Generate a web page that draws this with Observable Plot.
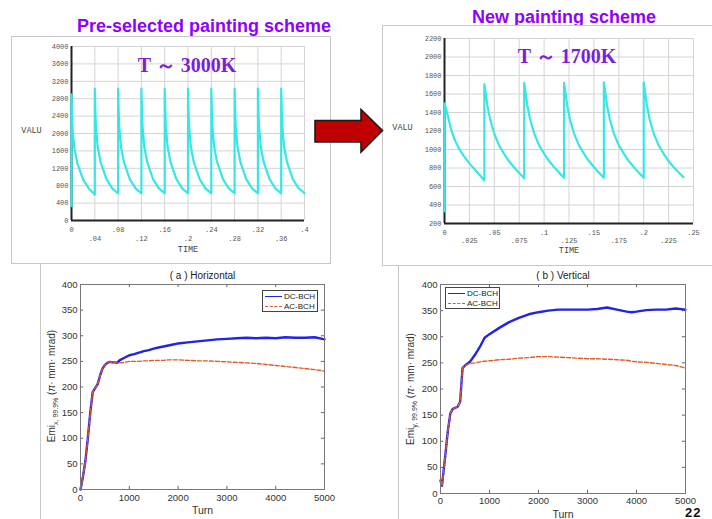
<!DOCTYPE html>
<html>
<head>
<meta charset="utf-8">
<script src="https://cdn.jsdelivr.net/npm/d3@7"></script>
<script src="https://cdn.jsdelivr.net/npm/@observablehq/plot@0.6"></script>
<style>
  html, body { margin: 0; padding: 0; background: #fff; }
  #page { position: relative; width: 712px; height: 519px; overflow: hidden; background: #fff; }
  .frame { position: absolute; border: 1px solid #c8c8c8; box-sizing: border-box; }
  .title { position: absolute; font-family: "Liberation Sans", Arial, sans-serif; font-weight: bold; font-size: 18px; line-height: 18px; color: #9000ff; white-space: nowrap; transform: translateX(-50%); }
  .temp { position: absolute; font-family: "Liberation Serif", "Times New Roman", serif; font-weight: bold; font-size: 20px; line-height: 20px; color: #7b1fd8; white-space: nowrap; transform: translateX(-50%); }
  .ylab { position: absolute; font-family: "Liberation Sans", Arial, sans-serif; font-size: 10px; color: #333; white-space: nowrap; transform: translate(-50%, -50%) rotate(-90deg); }
  .ylab sub { font-size: 7px; }
  .legend { position: absolute; background: #fff; border: 1px solid #444; box-sizing: border-box; font-family: "Liberation Sans", Arial, sans-serif; font-size: 8px; color: #222; padding: 1px 2px; white-space: nowrap; }
  .legend .row { display: flex; align-items: center; height: 9.5px; white-space: nowrap; }
  .legend .sw { width: 17px; flex: none; margin-right: 2px; height: 0; }
</style>
</head>
<body>
<div id="page"></div>
<script>
// ---------------- data ----------------
// Top-left (pre-selected scheme) temperature trace
const tlTime = [
  0, 0, .002, .005, .01, .02, .03, .04,
  .04, .041, .042, .045, .05, .06, .07, .08,
  .08, .081, .082, .085, .09, .10, .11, .12,
  .12, .121, .122, .125, .13, .14, .15, .16,
  .16, .161, .162, .165, .17, .18, .19, .20,
  .20, .201, .202, .205, .21, .22, .23, .24,
  .24, .241, .242, .245, .25, .26, .27, .28,
  .28, .281, .282, .285, .29, .30, .31, .32,
  .32, .321, .322, .325, .33, .34, .35, .36,
  .36, .361, .362, .365, .37, .38, .39, .40
];
const tlValue = [
  330, 2900, 2050, 1650, 1320, 940, 730, 595,
  3030, 2500, 2150, 1690, 1340, 950, 740, 620,
  3030, 2500, 2150, 1690, 1340, 950, 740, 625,
  3030, 2500, 2150, 1690, 1340, 950, 740, 625,
  3030, 2500, 2150, 1690, 1340, 950, 740, 625,
  3030, 2500, 2150, 1690, 1340, 950, 740, 625,
  3030, 2500, 2150, 1690, 1340, 950, 740, 625,
  3035, 2500, 2150, 1690, 1340, 950, 740, 625,
  3035, 2500, 2150, 1690, 1340, 950, 740, 625,
  3035, 2500, 2150, 1690, 1340, 950, 740, 630
];
const tlYTicks = [0, 400, 800, 1200, 1600, 2000, 2400, 2800, 3200, 3600, 4000];
const tlXTicks = [0, .04, .08, .12, .16, .2, .24, .28, .32, .36, .4];
const tlXRow1 = [0, .08, .16, .24, .32, .4];
const tlXRow2 = [.04, .12, .2, .28, .36];

// Top-right (new scheme) temperature trace
const trTime = [
  0, 0, .003, .006, .01, .015, .02, .025, .03, .035, .04,
  .04, .041, .043, .046, .05, .055, .06, .065, .07, .075, .08,
  .08, .081, .083, .086, .09, .095, .10, .105, .11, .115, .12,
  .12, .121, .123, .126, .13, .135, .14, .145, .15, .155, .16,
  .16, .161, .163, .166, .17, .175, .18, .185, .19, .195, .20,
  .20, .201, .203, .206, .21, .215, .22, .225, .23, .235, .24
];
const trValue = [
  330, 1500, 1380, 1240, 1110, 1000, 920, 850, 790, 730, 665,
  1705, 1640, 1480, 1320, 1170, 1040, 950, 870, 805, 745, 690,
  1720, 1650, 1490, 1325, 1175, 1045, 955, 875, 810, 750, 695,
  1720, 1650, 1490, 1325, 1175, 1045, 955, 875, 810, 750, 695,
  1725, 1655, 1490, 1325, 1175, 1045, 955, 875, 810, 750, 695,
  1725, 1655, 1490, 1325, 1175, 1045, 955, 875, 810, 755, 700
];
const trYTicks = [200, 400, 600, 800, 1000, 1200, 1400, 1600, 1800, 2000, 2200];
const trXTicks = [0, .025, .05, .075, .1, .125, .15, .175, .2, .225, .25];
const trXRow1 = [0, .05, .1, .15, .2, .25];
const trXRow2 = [.025, .075, .125, .175, .225];

// Bottom-left (a) Horizontal emittance
const blTurn = [0,50,100,150,200,250,300,350,400,450,500,550,600,650,700,750,800,900,1000,1100,1200,1300,1400,1500,1600,1700,1800,1900,2000,2200,2400,2600,2800,3000,3200,3400,3600,3800,4000,4200,4400,4600,4800,5000];
const blDC = [0,25,55,100,150,190,198,205,222,236,243,247,249,248,248,247,252,257,262,264,267,270,272,275,277,279,281,283,285,287,289,291,293,294,295,296,295,296,295,297,296,296,297,293];
const blAC = [0,25,55,100,150,190,198,205,222,236,243,247,249,248,248,247,247,248,250,250,250,251,251,252,252,252,253,253,253,252,251,251,250,249,248,247,246,244,242,240,238,236,234,231];

// Bottom-right (b) Vertical emittance
const brTurn = [0,30,100,150,200,250,300,350,400,450,500,600,700,800,900,1000,1200,1400,1600,1800,2000,2200,2400,2600,2800,3000,3200,3400,3600,3800,3900,4000,4200,4400,4600,4800,5000];
const brDC = [25,15,75,120,153,162,164,166,175,240,245,252,265,280,298,305,317,328,336,343,347,350,352,352,352,352,353,356,352,348,347,348,351,352,352,354,352];
const brAC = [25,15,75,120,153,162,164,166,175,240,245,249,250,252,253,254,256,257,259,260,262,262,261,260,259,258,258,257,256,255,253,252,251,249,247,245,240];

const emYTicks = [0, 50, 100, 150, 200, 250, 300, 350, 400];
const emXTicks = [0, 1000, 2000, 3000, 4000, 5000];
const seriesNames = ["DC-BCH", "AC-BCH"];

// ---------------- helpers ----------------
const page = document.getElementById("page");
function put(el, left, top) {
  el.style.position = "absolute";
  el.style.left = left + "px";
  el.style.top = top + "px";
  page.appendChild(el);
  return el;
}
function html(tag, cls, inner, css) {
  const el = document.createElement(tag);
  if (cls) el.className = cls;
  el.innerHTML = inner;
  Object.assign(el.style, css || {});
  page.appendChild(el);
  return el;
}
const fmtDot = d => d === 0 ? "0" : String(+d.toFixed(3)).replace(/^0\./, ".");
const ansysFont = "'Liberation Mono', 'DejaVu Sans Mono', monospace";
const cyan = "#38e6e6";

function ansysPlot(o) {
  return Plot.plot({
    width: o.width, height: o.height,
    marginLeft: o.ml, marginRight: o.mr, marginTop: o.mt, marginBottom: o.mb,
    style: {background: "transparent", overflow: "visible", fontFamily: ansysFont, fontSize: "7px", color: "#555"},
    x: {domain: o.xDomain},
    y: {domain: o.yDomain},
    marks: [
      Plot.gridX(o.xTicks, {stroke: "#d4d4d4", strokeOpacity: 1}),
      Plot.gridY(o.yTicks, {stroke: "#d4d4d4", strokeOpacity: 1}),
      Plot.axisY(o.yTicks, {tickSize: 0, tickPadding: 3, label: null, tickFormat: d => String(d)}),
      Plot.axisX(o.row1, {tickSize: 0, tickPadding: o.pad1, label: null, tickFormat: fmtDot}),
      Plot.axisX(o.row2, {tickSize: 0, tickPadding: o.pad2, label: null, tickFormat: fmtDot}),
      Plot.ruleX([o.xDomain[0]], {stroke: "#222", strokeWidth: 2}),
      Plot.ruleY([o.yDomain[0]], {stroke: "#222", strokeWidth: 2}),
      Plot.text(["TIME"], {frameAnchor: "bottom", dy: o.timeDy, lineAnchor: "middle", fontSize: 8.5, fill: "#444", fontFamily: ansysFont}),
      Plot.text(["VALU"], {frameAnchor: "left", dx: o.valuDx, dy: o.valuDy, lineAnchor: "middle", textAnchor: "middle", fontSize: 8.5, fill: "#444", fontFamily: ansysFont}),
      Plot.line(o.data, {x: "t", y: "v", stroke: cyan, strokeWidth: 2.2, curve: "linear"})
    ]
  });
}

function emitPlot(o) {
  const dc = o.turn.map((t, i) => ({t, v: o.dc[i]}));
  const ac = o.turn.map((t, i) => ({t, v: o.ac[i]}));
  return Plot.plot({
    width: o.width, height: o.height,
    marginLeft: o.ml, marginRight: o.mr, marginTop: o.mt, marginBottom: o.mb,
    style: {background: "transparent", overflow: "visible", fontFamily: "'Liberation Sans', Arial, sans-serif", fontSize: "9.5px", color: "#333"},
    x: {domain: [0, 5000]},
    y: {domain: [0, 400]},
    marks: [
      Plot.axisX(emXTicks, {tickSize: 0, tickPadding: o.xPad, label: null, tickFormat: d => String(d)}),
      Plot.axisY(emYTicks, {tickSize: 0, tickPadding: 3, label: null, tickFormat: d => String(d)}),
      Plot.ruleX(emXTicks, {y1: 0, y2: 6, stroke: "#666"}),
      Plot.ruleX(emXTicks, {y1: 394, y2: 400, stroke: "#666"}),
      Plot.ruleY(emYTicks, {x1: 0, x2: 65, stroke: "#666"}),
      Plot.ruleY(emYTicks, {x1: 4935, x2: 5000, stroke: "#666"}),
      Plot.line(dc, {x: "t", y: "v", stroke: "#2222e8", strokeWidth: 2.4}),
      Plot.line(ac, {x: "t", y: "v", stroke: "#dd5a22", strokeWidth: 1.4, strokeDasharray: "4,2"}),
      Plot.frame({stroke: "#777", strokeWidth: 1}),
      Plot.text([o.title], {frameAnchor: "top", dy: -8.5, lineAnchor: "middle", fontSize: 10, fill: "#222"}),
      Plot.text(["Turn"], {frameAnchor: "bottom", dy: o.turnDy, lineAnchor: "middle", fontSize: 10.5, fill: "#333"})
    ]
  });
}

// ---------------- top titles & frames ----------------
html("div", "title", "Pre-selected painting scheme", {left: "204px", top: "17px"});
html("div", "title", "New painting scheme", {left: "564px", top: "8px"});

html("div", "frame", "", {left: "11px", top: "36px", width: "320px", height: "228px"});
html("div", "frame", "", {left: "382px", top: "25px", width: "340px", height: "241px", background: "#fff"});
html("div", "frame", "", {left: "40px", top: "263px", width: "700px", height: "300px", borderTop: "none", borderRight: "none", borderBottom: "none"});
html("div", "frame", "", {left: "398px", top: "265px", width: "400px", height: "300px", borderTop: "none", borderRight: "none", borderBottom: "none"});

// ---------------- top-left ANSYS plot ----------------
const tlData = tlTime.map((t, i) => ({t, v: tlValue[i]}));
put(ansysPlot({
  width: 319, height: 227, ml: 60, mr: 26, mt: 10, mb: 43,
  xDomain: [0, 0.4], yDomain: [0, 4000],
  xTicks: tlXTicks, yTicks: tlYTicks, row1: tlXRow1, row2: tlXRow2,
  pad1: 7, pad2: 16, timeDy: 28.5, valuDx: -40, valuDy: -3,
  data: tlData
}), 11, 36);

// ---------------- top-right ANSYS plot ----------------
const trData = trTime.map((t, i) => ({t, v: trValue[i]}));
put(ansysPlot({
  width: 330, height: 240, ml: 62, mr: 19, mt: 13, mb: 42,
  xDomain: [0, 0.25], yDomain: [200, 2200],
  xTicks: trXTicks, yTicks: trYTicks, row1: trXRow1, row2: trXRow2,
  pad1: 6.5, pad2: 14.5, timeDy: 27, valuDx: -42, valuDy: -4,
  data: trData
}), 382, 25);

html("div", "temp", "T ～ 3000K", {left: "187px", top: "55px"});
html("div", "temp", "T ～ 1700K", {left: "567px", top: "46px"});

// ---------------- arrow ----------------
const ns = "http://www.w3.org/2000/svg";
const arrow = document.createElementNS(ns, "svg");
arrow.setAttribute("width", "74");
arrow.setAttribute("height", "48");
const poly = document.createElementNS(ns, "polygon");
poly.setAttribute("points", "2,12.5 48,12.5 48,1.5 69.5,22.5 48,44 48,34 2,34");
poly.setAttribute("fill", "#c00000");
poly.setAttribute("stroke", "#1a1a1a");
poly.setAttribute("stroke-width", "1.6");
poly.setAttribute("stroke-linejoin", "miter");
arrow.appendChild(poly);
put(arrow, 313, 108);

// ---------------- bottom emittance plots ----------------
put(emitPlot({
  width: 300, height: 255, ml: 40, mr: 16, mt: 20, mb: 30,
  turn: blTurn, dc: blDC, ac: blAC, title: "( a ) Horizontal", xPad: 5, turnDy: 21.5
}), 40, 264);

put(emitPlot({
  width: 314, height: 255, ml: 42, mr: 27, mt: 20, mb: 26,
  turn: brTurn, dc: brDC, ac: brAC, title: "( b ) Vertical", xPad: 4, turnDy: 21
}), 398, 264);

// y labels
html("div", "ylab", "Emi<sub>x, 99.9%</sub> (<i>π</i>· mm· mrad)", {left: "52px", top: "386px"});
html("div", "ylab", "Emi<sub>y, 99.9%</sub> (<i>π</i>· mm· mrad)", {left: "411px", top: "389px"});

// legends
function legend(left, top, w, h) {
  const rows = seriesNames.map((n, i) =>
    `<div class="row"><div class="sw" style="border-top:${i === 0 ? "1.5px solid #2222e8" : "1.2px dashed #dd5a22"}"></div><span>${n}</span></div>`
  ).join("");
  html("div", "legend", rows, {left: left + "px", top: top + "px", width: w + "px", height: h + "px"});
}
legend(262, 290, 56, 22);
legend(445, 287, 55, 22);

// page number
html("div", "", "22", {position: "absolute", left: "685px", top: "505px", lineHeight: "16px", fontFamily: "'Liberation Sans', Arial, sans-serif", fontWeight: "bold", fontSize: "13px", color: "#111", letterSpacing: "1px"});
</script>
</body>
</html>
